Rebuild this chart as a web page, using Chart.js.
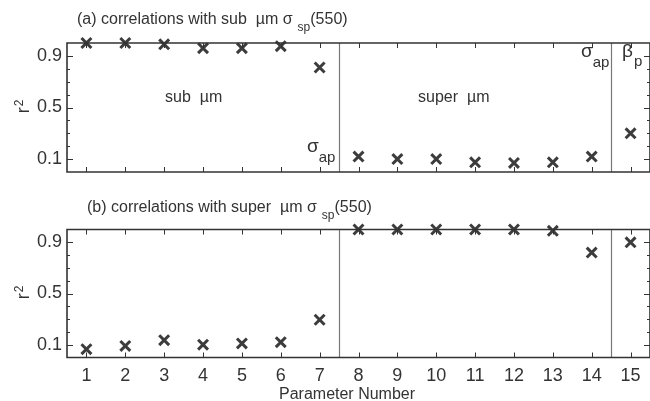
<!DOCTYPE html>
<html>
<head>
<meta charset="utf-8">
<script src="https://cdn.jsdelivr.net/npm/chart.js@4/dist/chart.umd.min.js"></script>
<style>
  html, body { margin: 0; padding: 0; background: #fff; overflow: hidden; }
  #wrap { position: relative; width: 650px; height: 401px; overflow: hidden; }
  canvas { position: absolute; left: 0; }
</style>
</head>
<body>
<div id="wrap">
  <canvas id="chartA" width="660" height="192" style="top:0"></canvas>
  <canvas id="chartB" width="660" height="209" style="top:192px"></canvas>
</div>
<script>
// parameter numbers 1..15
const params = [1, 2, 3, 4, 5, 6, 7, 8, 9, 10, 11, 12, 13, 14, 15];
// (a) r^2 with sub-um sigma_sp(550)
const subR2 = [1.0, 1.0, 0.99, 0.96, 0.96, 0.975, 0.81, 0.12, 0.10, 0.10, 0.075, 0.07, 0.075, 0.12, 0.30];
// (b) r^2 with super-um sigma_sp(550)
const superR2 = [0.065, 0.09, 0.135, 0.10, 0.11, 0.12, 0.295, 1.0, 1.0, 1.0, 1.0, 1.0, 0.99, 0.82, 0.90];

const xTicks = params;
const yMajorTicks = [0.1, 0.5, 0.9];
const yMinorTicks = [0.2, 0.3, 0.4, 0.6, 0.7, 0.8];
const dividers = [7.5, 14.5];

const FONT = '"Liberation Sans", Arial, Helvetica, sans-serif';
const AXIS = '#333';
const INK = '#3c3c3c';

function font(size) { return size + 'px ' + FONT; }

// draws a run of text pieces left to right (for sub/superscripts)
function drawRun(ctx, x, y, parts) {
  ctx.textAlign = 'left';
  ctx.textBaseline = 'alphabetic';
  parts.forEach(p => {
    ctx.font = font(p.size);
    ctx.fillText(p.t, x, y + (p.dy || 0));
    x += ctx.measureText(p.t).width + (p.gap || 0);
  });
}

function runWidth(ctx, parts) {
  let w = 0;
  parts.forEach(p => { ctx.font = font(p.size); w += ctx.measureText(p.t).width + (p.gap || 0); });
  return w;
}

const framePlugin = {
  id: 'frame',
  beforeDatasetsDraw(chart) {
    const { ctx, chartArea: a, scales: { x } } = chart;
    ctx.save();
    ctx.strokeStyle = '#777';
    ctx.lineWidth = 1.2;
    dividers.forEach(v => {
      const px = Math.round(x.getPixelForValue(v)) + 0.5;
      ctx.beginPath();
      ctx.moveTo(px, a.top);
      ctx.lineTo(px, a.bottom);
      ctx.stroke();
    });
    ctx.restore();
  },
  afterDraw(chart, args, opts) {
    const { ctx, chartArea: a, scales: { x, y } } = chart;
    ctx.save();
    ctx.strokeStyle = AXIS;
    ctx.lineWidth = 1.6;
    ctx.beginPath();
    ctx.moveTo(a.right, a.top);
    ctx.lineTo(a.left, a.top);
    ctx.lineTo(a.left, a.bottom);
    ctx.lineTo(a.right, a.bottom);
    ctx.lineTo(a.right, a.top);
    ctx.stroke();

    ctx.lineWidth = 1;
    ctx.beginPath();
    xTicks.forEach(v => {
      const px = Math.round(x.getPixelForValue(v)) + 0.5;
      ctx.moveTo(px, a.top); ctx.lineTo(px, a.top + 5);
      ctx.moveTo(px, a.bottom); ctx.lineTo(px, a.bottom - 5);
    });
    yMajorTicks.forEach(v => {
      const py = Math.round(y.getPixelForValue(v)) + 0.5;
      ctx.moveTo(a.left, py); ctx.lineTo(a.left + 6, py);
      ctx.moveTo(a.right, py); ctx.lineTo(a.right - 6, py);
    });
    yMinorTicks.forEach(v => {
      const py = Math.round(y.getPixelForValue(v)) + 0.5;
      ctx.moveTo(a.left, py); ctx.lineTo(a.left + 3, py);
      ctx.moveTo(a.right, py); ctx.lineTo(a.right - 3, py);
    });
    ctx.stroke();

    ctx.fillStyle = '#333';
    (opts.texts || []).forEach(t => drawRun(ctx, t.x, t.y, t.parts));

    // rotated y label r^2
    const lab = [{ t: 'r', size: 18, gap: 1 }, { t: '2', size: 12, dy: -6 }];
    const w = runWidth(ctx, lab);
    ctx.translate(28.5, (a.top + a.bottom) / 2 - 1);
    ctx.rotate(-Math.PI / 2);
    drawRun(ctx, -w / 2, 0, lab);
    ctx.restore();
  }
};

function yScale() {
  return {
    min: 0,
    max: 1,
    afterBuildTicks: s => { s.ticks = yMajorTicks.map(v => ({ value: v })); },
    afterFit: s => { s.width = 67; },
    grid: { display: false, drawTicks: false },
    border: { display: false },
    ticks: { color: '#333', padding: 5, font: { family: FONT, size: 18 } }
  };
}

function scatterData(values) {
  return {
    datasets: [{
      data: params.map((p, i) => ({ x: p, y: values[i] })),
      pointStyle: 'crossRot',
      pointRadius: 7,
      pointHoverRadius: 7,
      pointBorderWidth: 3,
      borderColor: INK,
      backgroundColor: INK,
      showLine: false,
      clip: false
    }]
  };
}

const common = {
  responsive: false,
  animation: false,
  devicePixelRatio: 1,
  plugins: { legend: { display: false }, tooltip: { enabled: false } },
  events: []
};

new Chart(document.getElementById('chartA'), {
  type: 'scatter',
  data: scatterData(subR2),
  options: Object.assign({}, common, {
    layout: { padding: { top: 43, bottom: 20, left: 0, right: 9 } },
    scales: {
      x: {
        type: 'linear', min: 0.5, max: 15.5, display: false,
        afterBuildTicks: s => { s.ticks = xTicks.map(v => ({ value: v })); }
      },
      y: yScale()
    },
    plugins: Object.assign({}, common.plugins, {
      frame: {
        texts: [
          { x: 77, y: 24, parts: [
            { t: '(a) correlations with sub  \u00b5m \u03c3', size: 16, gap: 5 },
            { t: 'sp', size: 12, dy: 7 },
            { t: '(550)', size: 16 }
          ] },
          { x: 165, y: 102, parts: [{ t: 'sub  \u00b5m', size: 16 }] },
          { x: 418, y: 102, parts: [{ t: 'super  \u00b5m', size: 16 }] },
          { x: 307, y: 152, parts: [{ t: '\u03c3', size: 19 }, { t: 'ap', size: 15, dy: 10 }] },
          { x: 581, y: 57, parts: [{ t: '\u03c3', size: 19 }, { t: 'ap', size: 15, dy: 10 }] },
          { x: 622, y: 57, parts: [{ t: '\u03b2', size: 19, gap: 1 }, { t: 'p', size: 15, dy: 9 }] }
        ]
      }
    })
  }),
  plugins: [framePlugin]
});

new Chart(document.getElementById('chartB'), {
  type: 'scatter',
  data: scatterData(superR2),
  options: Object.assign({}, common, {
    layout: { padding: { top: 37.5, bottom: 0, left: 0, right: 9 } },
    scales: {
      x: {
        type: 'linear', min: 0.5, max: 15.5,
        afterBuildTicks: s => { s.ticks = xTicks.map(v => ({ value: v })); },
        afterFit: s => { s.height = 43.5; },
        grid: { display: false, drawTicks: false },
        border: { display: false },
        ticks: { color: '#333', padding: 8, maxRotation: 0, autoSkip: false, font: { family: FONT, size: 18 } }
      },
      y: yScale()
    },
    plugins: Object.assign({}, common.plugins, {
      frame: {
        texts: [
          { x: 87, y: 20, parts: [
            { t: '(b) correlations with super  \u00b5m \u03c3', size: 16, gap: 5 },
            { t: 'sp', size: 12, dy: 7 },
            { t: '(550)', size: 16 }
          ] },
          { x: 279, y: 207, parts: [{ t: 'Parameter Number', size: 16 }] }
        ]
      }
    })
  }),
  plugins: [framePlugin]
});
</script>
</body>
</html>
